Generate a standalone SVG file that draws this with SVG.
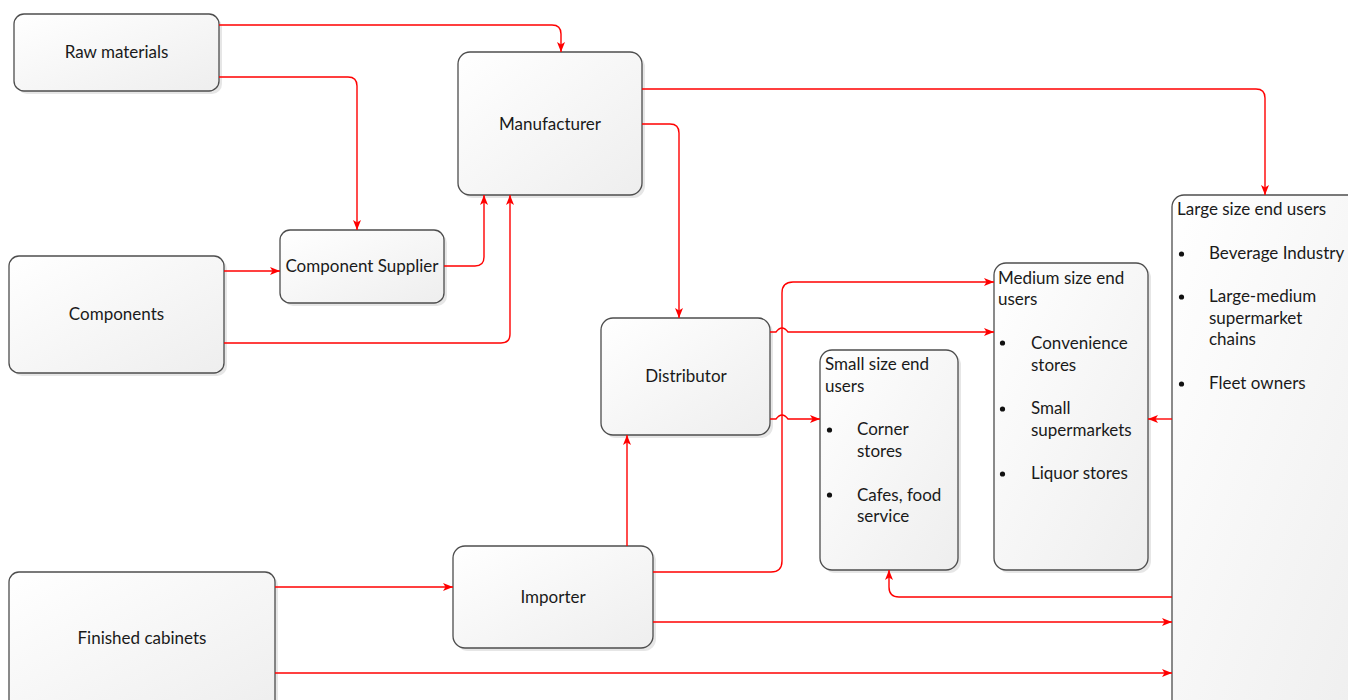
<svg xmlns="http://www.w3.org/2000/svg" width="1348" height="700" viewBox="0 0 1348 700">
<style>
.box{fill:url(#g);stroke:#4d4d4d;stroke-width:1.3}
.sh{fill:#e6e6e6}
.t{font-family:Lato,"Liberation Sans",sans-serif;font-size:17px;fill:#1a1a1a}
.c{text-anchor:middle}
.ln{fill:none;stroke:#ff0000;stroke-width:1.4}
.a{marker-end:url(#ar)}
</style>
<defs>
<linearGradient id="g" x1="0" y1="0" x2="1" y2="1">
<stop offset="0" stop-color="#ffffff"/>
<stop offset="1" stop-color="#eeeeee"/>
</linearGradient>
<marker id="ar" viewBox="0 0 10 8" refX="10" refY="4" markerWidth="10" markerHeight="8" markerUnits="userSpaceOnUse" orient="auto">
<path d="M0,0 L10,4 L0,8 L2.5,4 Z" fill="#ff0000"/>
</marker>
</defs>

<g id="raw-materials">
<rect class="sh" x="17" y="17" width="205" height="77" rx="10"/>
<rect class="box" x="14" y="14" width="205" height="77" rx="10"/>
<text class="t c" x="116.5" y="58">Raw materials</text>
</g>

<g id="manufacturer">
<rect class="sh" x="461" y="55" width="184" height="143" rx="12"/>
<rect class="box" x="458" y="52" width="184" height="143" rx="12"/>
<text class="t c" x="550" y="130">Manufacturer</text>
</g>

<g id="component-supplier">
<rect class="sh" x="283" y="233" width="164" height="73" rx="10"/>
<rect class="box" x="280" y="230" width="164" height="73" rx="10"/>
<text class="t c" x="362" y="272">Component Supplier</text>
</g>

<g id="components">
<rect class="sh" x="12" y="259" width="215" height="117" rx="10"/>
<rect class="box" x="9" y="256" width="215" height="117" rx="10"/>
<text class="t c" x="116.5" y="320">Components</text>
</g>

<g id="distributor">
<rect class="sh" x="604" y="321" width="169" height="117" rx="12"/>
<rect class="box" x="601" y="318" width="169" height="117" rx="12"/>
<text class="t c" x="686" y="382">Distributor</text>
</g>

<g id="importer">
<rect class="sh" x="456" y="549" width="200" height="102" rx="12"/>
<rect class="box" x="453" y="546" width="200" height="102" rx="12"/>
<text class="t c" x="553" y="603">Importer</text>
</g>

<g id="finished-cabinets">
<rect class="sh" x="12" y="575" width="266" height="140" rx="10"/>
<rect class="box" x="9" y="572" width="266" height="140" rx="10"/>
<text class="t c" x="142" y="644">Finished cabinets</text>
</g>

<g id="small-end-users">
<rect class="sh" x="823" y="353" width="138" height="220" rx="12"/>
<rect class="box" x="820" y="350" width="138" height="220" rx="12"/>
<text class="t" x="825" y="370">Small size end</text>
<text class="t" x="825" y="392">users</text>
<circle cx="829.5" cy="430" r="2.6" fill="#111"/>
<text class="t" x="857" y="435">Corner</text>
<text class="t" x="857" y="457">stores</text>
<circle cx="829.5" cy="495" r="2.6" fill="#111"/>
<text class="t" x="857" y="501">Cafes, food</text>
<text class="t" x="857" y="522">service</text>
</g>

<g id="medium-end-users">
<rect class="sh" x="997" y="266" width="154" height="307" rx="12"/>
<rect class="box" x="994" y="263" width="154" height="307" rx="12"/>
<text class="t" x="998" y="284">Medium size end</text>
<text class="t" x="998" y="305">users</text>
<circle cx="1002.5" cy="343" r="2.6" fill="#111"/>
<text class="t" x="1031" y="349">Convenience</text>
<text class="t" x="1031" y="371">stores</text>
<circle cx="1002.5" cy="409" r="2.6" fill="#111"/>
<text class="t" x="1031" y="414">Small</text>
<text class="t" x="1031" y="436">supermarkets</text>
<circle cx="1002.5" cy="474" r="2.6" fill="#111"/>
<text class="t" x="1031" y="479">Liquor stores</text>
</g>

<g id="large-end-users">
<rect class="box" x="1172" y="195" width="200" height="530" rx="12"/>
<text class="t" x="1177" y="215">Large size end users</text>
<circle cx="1181.5" cy="254" r="2.6" fill="#111"/>
<text class="t" x="1209" y="259">Beverage Industry</text>
<circle cx="1181.5" cy="297" r="2.6" fill="#111"/>
<text class="t" x="1209" y="302">Large-medium</text>
<text class="t" x="1209" y="324">supermarket</text>
<text class="t" x="1209" y="345">chains</text>
<circle cx="1181.5" cy="384" r="2.6" fill="#111"/>
<text class="t" x="1209" y="389">Fleet owners</text>
</g>

<g id="connectors">
<path class="ln a" d="M219,25 H552 Q561,25 561,34 V52"/>
<path class="ln a" d="M219,77 H348 Q357,77 357,86 V230"/>
<path class="ln a" d="M224,271 H280"/>
<path class="ln a" d="M224,343 H501 Q510,343 510,334 V195"/>
<path class="ln a" d="M444,266 H475 Q484,266 484,257 V195"/>
<path class="ln a" d="M642,89 H1256 Q1265,89 1265,98 V195"/>
<path class="ln a" d="M642,124 H670 Q679,124 679,133 V318"/>
<path class="ln a" d="M770,332 H776 Q782,324 788,332 H994"/>
<path class="ln a" d="M770,419 H776 Q782,411 788,419 H820"/>
<path class="ln a" d="M653,572 H771 Q782,572 782,561 V293 Q782,282 793,282 H994"/>
<path class="ln a" d="M653,622 H1172"/>
<path class="ln a" d="M627,546 V435"/>
<path class="ln a" d="M275,587 H453"/>
<path class="ln a" d="M275,673 H1172"/>
<path class="ln a" d="M1172,419 H1148"/>
<path class="ln a" d="M1172,597 H899 Q889,597 889,587 V570"/>
</g>
</svg>
